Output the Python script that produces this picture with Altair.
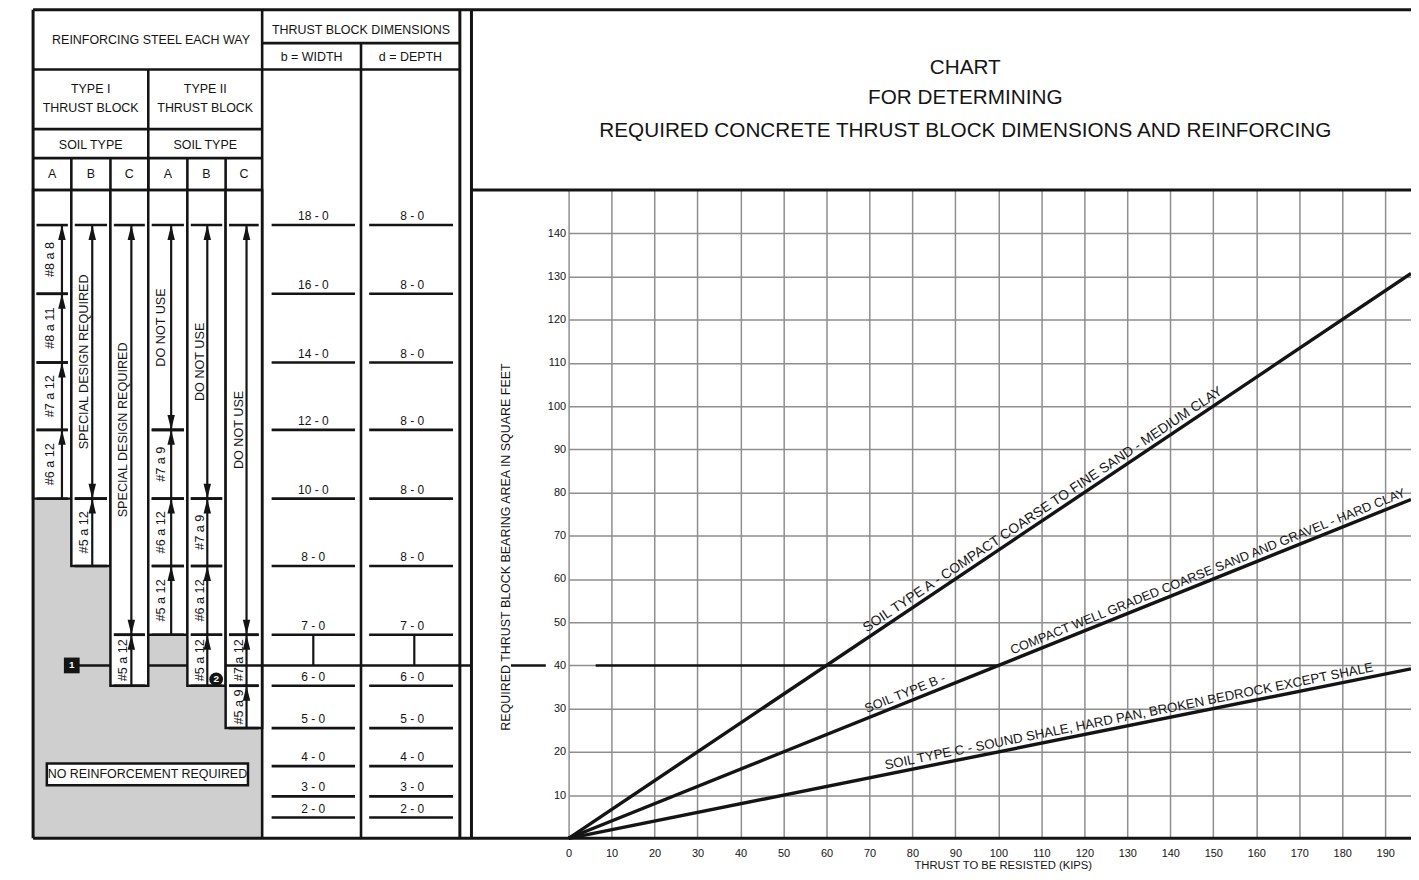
import math
import altair as alt
import pandas as pd

FONT = "Liberation Sans"
INK = "#141414"
GRID = "#8e8e8e"
HATCH = "#cfcfcf"

# ------------------------------------------------------------------ data
# right-hand chart
thrust_ticks = [0, 10, 20, 30, 40, 50, 60, 70, 80, 90, 100, 110, 120, 130, 140, 150, 160, 170, 180, 190]
area_ticks = [10, 20, 30, 40, 50, 60, 70, 80, 90, 100, 110, 120, 130, 140]

soil_names = ["A", "B", "C"]
soil_line_thrust = [0, 196]
soil_A_area = [0, 130.7]
soil_B_area = [0, 78.4]
soil_C_area = [0, 39.2]

label_soil = ["A", "B", "B", "C"]
label_text = [
    "SOIL TYPE A - COMPACT COARSE TO FINE SAND - MEDIUM CLAY",
    "SOIL TYPE B -",
    "COMPACT WELL GRADED COARSE SAND AND GRAVEL - HARD CLAY",
    "SOIL TYPE C - SOUND SHALE, HARD PAN, BROKEN BEDROCK EXCEPT SHALE",
]
label_start_thrust = [70.0, 69.8, 103.7, 74.0]

chart_title = ["CHART", "FOR DETERMINING", "REQUIRED CONCRETE THRUST BLOCK DIMENSIONS AND REINFORCING"]

# worked example: 40 sq ft read across to soil B
example_area = 40
example_thrust_to = 100

# left-hand table: block dimension rows (bearing area level of each row line)
dim_row_area = [141.9, 126.0, 110.1, 94.5, 78.6, 63.0, 47.1, 35.3, 25.5, 16.7, 9.7, 4.8]
dim_width = ["18 - 0", "16 - 0", "14 - 0", "12 - 0", "10 - 0", "8 - 0", "7 - 0", "6 - 0", "5 - 0", "4 - 0", "3 - 0", "2 - 0"]
dim_depth = ["8 - 0", "8 - 0", "8 - 0", "8 - 0", "8 - 0", "8 - 0", "7 - 0", "6 - 0", "5 - 0", "4 - 0", "3 - 0", "2 - 0"]

steel_cols = ["I-A", "I-B", "I-C", "II-A", "II-B", "II-C"]
steel_col_letter = ["A", "B", "C", "A", "B", "C"]
seg_col = [0, 0, 0, 0, 1, 1, 2, 2, 3, 3, 3, 3, 4, 4, 4, 4, 5, 5, 5]
seg_top = [0, 1, 2, 3, 0, 4, 0, 6, 0, 3, 4, 5, 0, 4, 5, 6, 0, 6, 7]
seg_bot = [1, 2, 3, 4, 4, 5, 6, 7, 3, 4, 5, 6, 4, 5, 6, 7, 6, 7, 8]
seg_text = ["#8 a 8", "#8 a 11", "#7 a 12", "#6 a 12",
            "SPECIAL DESIGN REQUIRED", "#5 a 12",
            "SPECIAL DESIGN REQUIRED", "#5 a 12",
            "DO NOT USE", "#7 a 9", "#6 a 12", "#5 a 12",
            "DO NOT USE", "#7 a 9", "#6 a 12", "#5 a 12",
            "DO NOT USE", "#7 a 12", "#5 a 9"]
seg_kind = ["up", "up", "up", "up", "both", "up", "both", "up",
            "both", "up", "up", "up", "both", "up", "up", "up", "both", "up", "up"]

# ------------------------------------------------------------------ layout (chart units)
X_MAX, Y_MAX = 196.0, 150.0
W, H = 846, 651
PX, PY = W / X_MAX, H / Y_MAX

TBL_EDGES = [-124.6, -115.7, -106.6, -97.8, -88.7, -79.8, -71.3]
DIM_EDGES = [-71.3, -48.3, -25.3]
FRAME_X2 = -22.6
Y_TOP, Y_H1, Y_H2, Y_H3, Y_H4 = 191.7, 184.0, 177.9, 164.1, 157.4
TEXT_OFF = [17, 13, 13, 13, 13, 13]      # px from column left
ARROW_OFF = [29, 21, 21, 23, 20, 21]     # px from column left
SOIL_LABEL_FS = {"A": 13.8, "B": 12.9, "C": 13.3}

XS = alt.Scale(domain=[0, X_MAX], nice=False, zero=False)
YS = alt.Scale(domain=[0, Y_MAX], nice=False, zero=False)

XAXIS = alt.Axis(values=thrust_ticks, grid=True, gridColor=GRID, gridWidth=1.5, domain=False, ticks=False,
                 labelPadding=9, labelFontSize=11, labelFlush=False, labelColor=INK, labelFont=FONT,
                 title="THRUST TO BE RESISTED (KIPS)", titleFont=FONT, titleFontSize=11.3, titleFontWeight="normal",
                 titleColor=INK, titleX=436, titleY=27.5, titleAlign="center", titleBaseline="middle")
YAXIS = alt.Axis(values=area_ticks, grid=True, gridColor=GRID, gridWidth=1.5, domain=False, ticks=False,
                 labelPadding=3, labelFontSize=11, labelColor=INK, labelFont=FONT,
                 title="REQUIRED THRUST BLOCK BEARING AREA IN SQUARE FEET", titleFont=FONT, titleFontSize=12.5,
                 titleFontWeight="normal", titleColor=INK, titleAngle=270, titleX=-63, titleY=358,
                 titleAlign="center", titleBaseline="middle")


def xe(f):
    return alt.X(f"{f}:Q", scale=XS, axis=XAXIS)


def ye(f):
    return alt.Y(f"{f}:Q", scale=YS, axis=YAXIS)


layers = []

# ---------------- soil lines
soil_rows = []
for name, areas in zip(soil_names, [soil_A_area, soil_B_area, soil_C_area]):
    for t, a in zip(soil_line_thrust, areas):
        soil_rows.append(dict(soil=name, thrust=t, area=a))
soil_df = pd.DataFrame(soil_rows)
layers.append(alt.Chart(soil_df).mark_line(color=INK, strokeWidth=3.4).encode(
    x=xe("thrust"), y=ye("area"), detail="soil:N"))

# ---------------- hatched "no reinforcement" zone and column boxes
L, R = TBL_EDGES[0], TBL_EDGES[-1]
hatch = pd.DataFrame([dict(x=L, x2=R, y=0, y2=Y_MAX)])
layers.append(alt.Chart(hatch).mark_rect(color=HATCH).encode(x=xe("x"), x2="x2:Q", y=ye("y"), y2="y2:Q"))

boxes = []
for c in range(6):
    bottom = max(seg_bot[i] for i in range(len(seg_col)) if seg_col[i] == c)
    boxes.append(dict(x=TBL_EDGES[c], x2=TBL_EDGES[c + 1], y=dim_row_area[bottom], y2=Y_MAX))
layers.append(alt.Chart(pd.DataFrame(boxes)).mark_rect(fill="white", stroke=INK, strokeWidth=2.5).encode(
    x=xe("x"), x2="x2:Q", y=ye("y"), y2="y2:Q"))

nr = pd.DataFrame([dict(x=-121.4, x2=-74.6, y=12.3, y2=17.3)])
layers.append(alt.Chart(nr).mark_rect(fill="white", stroke=INK, strokeWidth=2.5).encode(
    x=xe("x"), x2="x2:Q", y=ye("y"), y2="y2:Q"))

# ---------------- frame and table rules
rules = []


def seg(x, x2, y, y2, w=2.6):
    rules.append(dict(x=x, x2=x2, y=y, y2=y2, w=w))


seg(L, X_MAX, Y_TOP, Y_TOP, 3)
seg(L, X_MAX, 0, 0, 3)
seg(L, L, 0, Y_TOP, 3)
seg(R, R, 0, Y_TOP)
seg(DIM_EDGES[1], DIM_EDGES[1], 0, Y_H1)
seg(DIM_EDGES[2], DIM_EDGES[2], 0, Y_TOP, 3)
seg(FRAME_X2, FRAME_X2, 0, Y_TOP, 3)
seg(FRAME_X2, X_MAX, Y_MAX, Y_MAX, 3)
seg(R, DIM_EDGES[2], Y_H1, Y_H1)
seg(L, DIM_EDGES[2], Y_H2, Y_H2)
seg(L, R, Y_H3, Y_H3)
seg(L, R, Y_H4, Y_H4)
seg(L, R, Y_MAX, Y_MAX)
seg(TBL_EDGES[3], TBL_EDGES[3], Y_MAX, Y_H2)
for e in TBL_EDGES[1:6]:
    seg(e, e, Y_MAX, Y_H4)

# separators inside the steel columns
inset = 0.8
for i in range(len(seg_col)):
    c = seg_col[i]
    for r in (seg_top[i], seg_bot[i]):
        seg(TBL_EDGES[c] + inset, TBL_EDGES[c + 1] - inset, dim_row_area[r], dim_row_area[r], 2.6)

# dimension row lines
for r in dim_row_area:
    seg(DIM_EDGES[0] + 2.2, DIM_EDGES[1] - 1.4, r, r, 2.6)
    seg(DIM_EDGES[1] + 1.9, DIM_EDGES[2] - 1.6, r, r, 2.6)

# worked example line at 40 sq ft
for a, b in [(-115.6, TBL_EDGES[2]), (TBL_EDGES[3], TBL_EDGES[4]), (TBL_EDGES[5], FRAME_X2),
             (-13.4, -5.3), (6.3, example_thrust_to)]:
    seg(a, b, example_area, example_area, 2.6)
for cx in [(DIM_EDGES[0] + DIM_EDGES[1]) / 2 + 0.4, (DIM_EDGES[1] + DIM_EDGES[2]) / 2 + 0.9]:
    seg(cx, cx, example_area, dim_row_area[6], 2.2)

# arrow shafts
arrows_up, arrows_dn = [], []
for i in range(len(seg_col)):
    c = seg_col[i]
    ax = TBL_EDGES[c] + ARROW_OFF[c] / PX
    top, bot = dim_row_area[seg_top[i]], dim_row_area[seg_bot[i]]
    seg(ax, ax, bot, top, 2.2)
    arrows_up.append(dict(x=ax, y=top))
    if seg_kind[i] == "both":
        arrows_dn.append(dict(x=ax, y=bot))

layers.append(alt.Chart(pd.DataFrame(rules)).mark_rule(color=INK).encode(
    x=xe("x"), x2="x2:Q", y=ye("y"), y2="y2:Q", strokeWidth=alt.StrokeWidth("w:Q", scale=None)))

UP = "M0,-1L0.5,1L-0.5,1Z"
DN = "M0,1L0.5,-1L-0.5,-1Z"
layers.append(alt.Chart(pd.DataFrame(arrows_up)).mark_point(shape=UP, size=225, filled=True, color=INK, opacity=1, yOffset=7.5).encode(
    x=xe("x"), y=ye("y")))
layers.append(alt.Chart(pd.DataFrame(arrows_dn)).mark_point(shape=DN, size=225, filled=True, color=INK, opacity=1, yOffset=-7.5).encode(
    x=xe("x"), y=ye("y")))

# ---------------- texts in steel columns
seg_lab = []
for i in range(len(seg_col)):
    c = seg_col[i]
    seg_lab.append(dict(x=TBL_EDGES[c] + TEXT_OFF[c] / PX,
                        y=(dim_row_area[seg_top[i]] + dim_row_area[seg_bot[i]]) / 2,
                        t=seg_text[i]))
layers.append(alt.Chart(pd.DataFrame(seg_lab)).mark_text(angle=270, font=FONT, fontSize=12.7, color=INK,
                                                        align="center", baseline="middle").encode(
    x=xe("x"), y=ye("y"), text="t:N"))

# dimension labels
dl = []
for r, wv, dv in zip(dim_row_area, dim_width, dim_depth):
    dl.append(dict(x=(DIM_EDGES[0] + DIM_EDGES[1]) / 2 + 0.4, y=r, t=wv))
    dl.append(dict(x=(DIM_EDGES[1] + DIM_EDGES[2]) / 2 + 0.4, y=r, t=dv))
layers.append(alt.Chart(pd.DataFrame(dl)).mark_text(font=FONT, fontSize=12, color=INK, align="center",
                                                   baseline="alphabetic", dy=-5).encode(
    x=xe("x"), y=ye("y"), text="t:N"))

# header texts
mid = lambda a, b: (a + b) / 2
hdr = [
    dict(x=mid(L, R) + 0.8, y=184.8, t="REINFORCING STEEL EACH WAY"),
    dict(x=mid(DIM_EDGES[0], DIM_EDGES[2]), y=187.1, t="THRUST BLOCK DIMENSIONS"),
    dict(x=mid(DIM_EDGES[0], DIM_EDGES[1]), y=180.9, t="b = WIDTH"),
    dict(x=mid(DIM_EDGES[1], DIM_EDGES[2]), y=180.9, t="d = DEPTH"),
    dict(x=mid(TBL_EDGES[0], TBL_EDGES[3]), y=173.3, t="TYPE I"),
    dict(x=mid(TBL_EDGES[0], TBL_EDGES[3]), y=169.1, t="THRUST BLOCK"),
    dict(x=mid(TBL_EDGES[3], TBL_EDGES[6]), y=173.3, t="TYPE II"),
    dict(x=mid(TBL_EDGES[3], TBL_EDGES[6]), y=169.1, t="THRUST BLOCK"),
    dict(x=mid(TBL_EDGES[0], TBL_EDGES[3]), y=160.4, t="SOIL TYPE"),
    dict(x=mid(TBL_EDGES[3], TBL_EDGES[6]), y=160.4, t="SOIL TYPE"),
]
for c in range(6):
    hdr.append(dict(x=mid(TBL_EDGES[c], TBL_EDGES[c + 1]), y=153.7, t=steel_col_letter[c]))
hdr.append(dict(x=mid(-121.4, -74.6), y=14.8, t="NO REINFORCEMENT REQUIRED"))
layers.append(alt.Chart(pd.DataFrame(hdr)).mark_text(font=FONT, fontSize=12.5, color=INK, align="center",
                                                    baseline="middle").encode(
    x=xe("x"), y=ye("y"), text="t:N"))

# example markers
m1 = pd.DataFrame([dict(x=-115.6, y=example_area, t="1")])
m2 = pd.DataFrame([dict(x=-82.0, y=36.8, t="2")])
layers.append(alt.Chart(m1).mark_point(shape="square", size=250, filled=True, color=INK, opacity=1).encode(x=xe("x"), y=ye("y")))
layers.append(alt.Chart(m2).mark_point(shape="circle", size=190, filled=True, color=INK, opacity=1).encode(x=xe("x"), y=ye("y")))
layers.append(alt.Chart(pd.concat([m1, m2])).mark_text(font=FONT, fontSize=10, fontWeight="bold", color="white",
                                                      align="center", baseline="middle").encode(
    x=xe("x"), y=ye("y"), text="t:N"))

# chart title
tt = pd.DataFrame(dict(x=[92.3] * 3, y=[178.3, 171.2, 163.6], t=chart_title))
layers.append(alt.Chart(tt).mark_text(font=FONT, fontSize=20.8, color=INK, align="center", baseline="middle").encode(
    x=xe("x"), y=ye("y"), text="t:N"))

# soil labels along lines
slope = {n: a[1] / soil_line_thrust[1] for n, a in zip(soil_names, [soil_A_area, soil_B_area, soil_C_area])}
lab = []
for s, t, x0 in zip(label_soil, label_text, label_start_thrust):
    ang = math.degrees(math.atan(slope[s] * PY / PX))
    lab.append(dict(x=x0, y=slope[s] * x0, t=t, ang=360 - ang, fs=SOIL_LABEL_FS[s]))
layers.append(alt.Chart(pd.DataFrame(lab)).mark_text(font=FONT, color=INK, align="left",
                                                    baseline="bottom", dy=-2).encode(
    x=xe("x"), y=ye("y"), text="t:N", angle=alt.Angle("ang:Q", scale=None),
    size=alt.Size("fs:Q", scale=None)))

chart = alt.layer(*layers).properties(
    width=W, height=H,
    padding={"left": 563, "top": 181, "right": 0, "bottom": 32},
    autosize=alt.AutoSizeParams(type="none"),
    background="white",
).configure_view(stroke=None)

chart.save("out.html", embed_options={"renderer": "svg", "actions": False})
